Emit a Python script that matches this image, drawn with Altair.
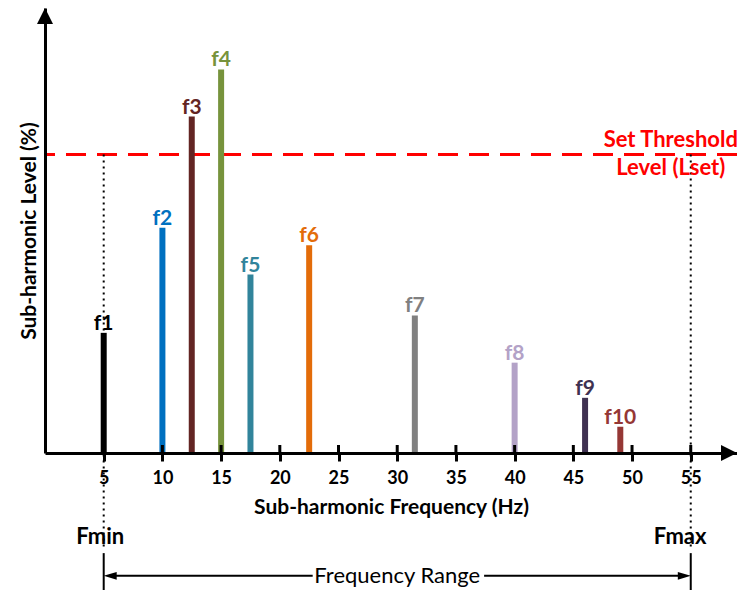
import altair as alt
import pandas as pd

# ---- data ----
names = ["f1", "f2", "f3", "f4", "f5", "f6", "f7", "f8", "f9", "f10"]
freqs = [5, 10, 12.5, 15, 17.5, 22.5, 31.5, 40, 46, 49]
levels = [27.0, 50.6, 75.6, 86.2, 40.1, 46.7, 30.9, 20.3, 12.4, 5.9]
colors = ["#000000", "#0070C0", "#632523", "#77933C", "#31849B",
          "#E36C09", "#808080", "#B3A2C7", "#3F3151", "#953735"]
tick_values = [5, 10, 15, 20, 25, 30, 35, 40, 45, 50, 55]
threshold = 67.1
threshold_text = ["Set Threshold", "Level (Lset)"]
f_range = [5, 55]
range_labels = ["Fmin", "Fmax"]
range_title = "Frequency Range"

FONT = "Lato"
X_MAX = 58.94
xs = alt.Scale(domain=[0, X_MAX], nice=False, zero=False)
ys = alt.Scale(domain=[0, 100], nice=False, zero=False)

xaxis = alt.Axis(values=tick_values, title="Sub-harmonic Frequency (Hz)", grid=False,
                 domainColor="black", domainWidth=3, tickColor="black", tickWidth=3,
                 tickSize=8, labelFont=FONT, labelFontWeight="bold", labelFontSize=18,
                 labelColor="black", labelPadding=8, labelFlush=False, labelOverlap=False,
                 titleFont=FONT, titleFontWeight="bold", titleFontSize=21,
                 titleColor="black", titlePadding=9, zindex=1)
yaxis = alt.Axis(title="Sub-harmonic Level (%)", grid=False, ticks=False, labels=False,
                 domainColor="black", domainWidth=3, titleFont=FONT,
                 titleFontWeight="bold", titleFontSize=21, titleColor="black",
                 titlePadding=6, zindex=1)


def X(f="x"):
    return alt.X(f"{f}:Q", scale=xs, axis=xaxis)


def Y(f="y"):
    return alt.Y(f"{f}:Q", scale=ys, axis=yaxis)


color_enc = alt.Color("name:N", scale=alt.Scale(domain=names, range=colors), legend=None)

bars_df = pd.DataFrame({"x": freqs, "y": [0] * len(freqs), "y2": levels, "name": names})
bars = alt.Chart(bars_df).mark_rule(strokeWidth=6, strokeCap="butt").encode(
    x=X(), y=Y(), y2="y2:Q", color=color_enc)

lab_df = pd.DataFrame({"x": freqs, "y": levels, "name": names})
labels = alt.Chart(lab_df).mark_text(font=FONT, fontWeight="bold", fontSize=21,
                                     baseline="alphabetic", dy=-3).encode(
    x=X(), y=Y(), text="name:N", color=color_enc)

thr = alt.Chart(pd.DataFrame({"y": [threshold]})).mark_rule(
    color="#FF0000", strokeDash=[20, 11], strokeWidth=3).encode(y=Y())

thr_txt = alt.Chart(pd.DataFrame({"x": [53.3, 53.3], "y": [68.8, 62.5],
                                  "t": threshold_text})).mark_text(
    font=FONT, fontWeight="bold", fontSize=22, color="#FF0000",
    baseline="alphabetic").encode(x=X(), y=Y(), text="t:N")

dotted = alt.Chart(pd.DataFrame({"x": f_range, "y": [threshold] * 2,
                                 "y2": [-21.5] * 2})).mark_rule(
    color="black", strokeDash=[2, 4], strokeWidth=2).encode(x=X(), y=Y(), y2="y2:Q")

ticks_up = alt.Chart(pd.DataFrame({"x": tick_values, "y": [0] * len(tick_values),
                                   "y2": [1.8] * len(tick_values)})).mark_rule(
    color="black", strokeWidth=3).encode(x=X(), y=Y(), y2="y2:Q")

y_arrow = alt.Chart(pd.DataFrame({"x": [0], "y": [98.2]})).mark_point(
    shape="M0,-1L1,1L-1,1Z", size=256, filled=True, color="black", opacity=1).encode(x=X(), y=Y())
x_arrow = alt.Chart(pd.DataFrame({"x": [58.26], "y": [0]})).mark_point(
    shape="M1,0L-1,-1L-1,1Z", size=256, filled=True, color="black", opacity=1).encode(x=X(), y=Y())

fm_txt = alt.Chart(pd.DataFrame({"x": [4.7, 54.1], "y": [-18.9, -18.9],
                                 "t": range_labels})).mark_text(
    font=FONT, fontWeight="bold", fontSize=22, color="black", baseline="middle").encode(
    x=X(), y=Y(), text="t:N")

vlines = alt.Chart(pd.DataFrame({"x": f_range, "y": [-22.5] * 2, "y2": [-30.8] * 2})).mark_rule(
    color="black", strokeWidth=2).encode(x=X(), y=Y(), y2="y2:Q")

hsegs = alt.Chart(pd.DataFrame({"x": [5.5, 37.4], "x2": [22.8, 54.5],
                                "y": [-27.6, -27.6]})).mark_rule(
    color="black", strokeWidth=2).encode(x=X(), x2="x2:Q", y=Y())

heads = alt.Chart(pd.DataFrame({"x": [5.55, 54.45], "y": [-27.6, -27.6],
                                "s": ["L", "R"]})).mark_point(
    filled=True, color="black", opacity=1, size=169).encode(
    x=X(), y=Y(),
    shape=alt.Shape("s:N", scale=alt.Scale(domain=["L", "R"],
                                           range=["M-1,0L1,-0.6L1,0.6Z", "M1,0L-1,-0.6L-1,0.6Z"]),
                    legend=None))

rng_txt = alt.Chart(pd.DataFrame({"x": [30], "y": [-27.6], "t": [range_title]})).mark_text(
    font=FONT, fontSize=22, color="black", baseline="middle").encode(x=X(), y=Y(), text="t:N")

chart = alt.layer(thr, dotted, bars, labels, thr_txt, ticks_up, y_arrow, x_arrow,
                  fm_txt, vlines, hsegs, heads, rng_txt).properties(
    width=692, height=445,
    autosize=alt.AutoSizeParams(type="none"),
    padding={"left": 37, "top": 0, "right": 0, "bottom": 137},
).configure_view(stroke=None)

chart.save("out.html", embed_options={"renderer": "svg", "actions": False})
